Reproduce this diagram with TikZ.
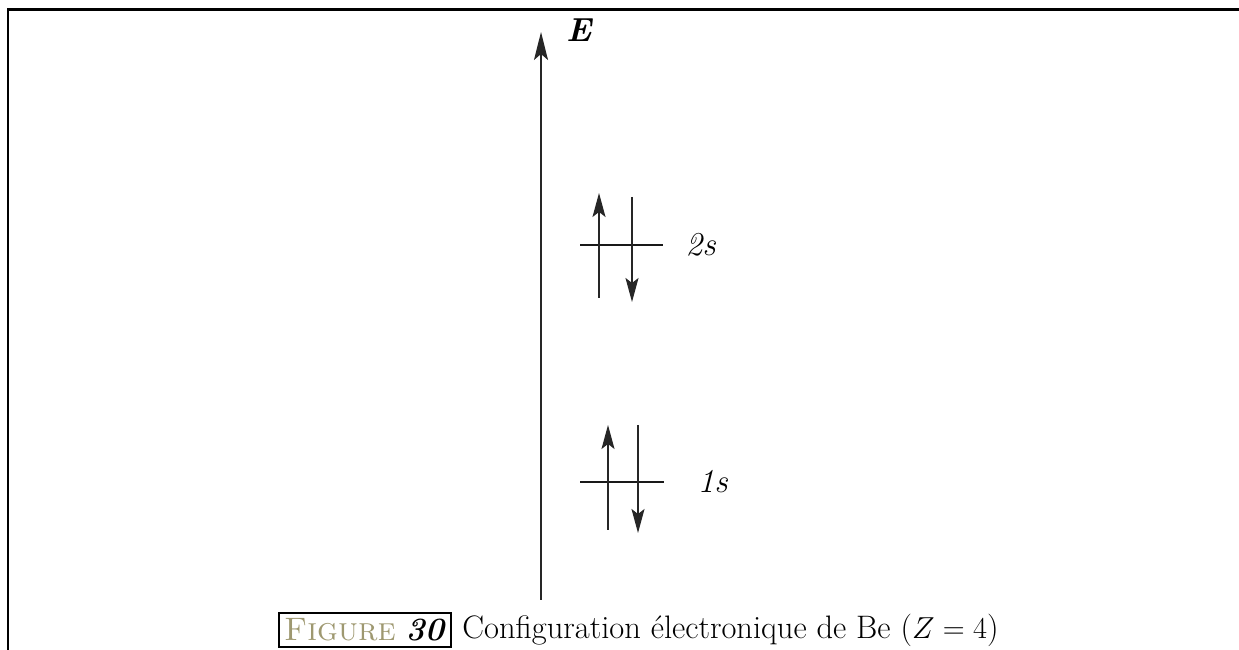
\documentclass[tikz,border=0pt]{standalone}
\usepackage{fontspec}
\usetikzlibrary{arrows.meta,positioning}
\definecolor{figgold}{HTML}{9E9870}

\begin{document}
\begin{tikzpicture}[line width=0.8pt,>=Stealth,
  axis/.style={->,line width=1.1pt,draw=black!85,>={Stealth[length=5.6mm,width=2.8mm,inset=1.2mm]}},
  spin/.style={->,line width=1pt,draw=black!85,>={Stealth[length=4.8mm,width=2.6mm,inset=1mm]}},
  level/.style={line width=1.1pt,draw=black!90},
  lab/.style={font=\fontsize{19}{21}\selectfont\itshape,inner sep=0pt}]
\useasboundingbox (0,0) rectangle (24.78,13);
% ---- frame ----
\draw[line width=1.7pt] (0.16,0) -- (0.16,12.8) -- (24.78,12.8);
% ---- energy axis ----
\coordinate (ebot) at (10.82,1.0);
\coordinate (etop) at (10.82,12.36);
\draw[axis] (ebot) -- (etop);
\node[lab,font=\fontsize{19}{21}\selectfont\bfseries\itshape] (elab) at (11.58,12.4) {E};
% ---- 2s level ----
\coordinate (s2l) at (11.6,8.1);
\coordinate (s2r) at (13.26,8.1);
\draw[level] (s2l) -- (s2r);
\node[lab,right=0.44cm of s2r] (lab2s) {2s};
\draw[spin] (11.98,7.04) -- (11.98,9.14);
\draw[spin] (12.64,9.06) -- (12.64,6.96);
% ---- 1s level ----
\coordinate (s1l) at (11.6,3.36);
\coordinate (s1r) at (13.28,3.36);
\draw[level] (s1l) -- (s1r);
\node[lab,right=0.66cm of s1r] (lab1s) {1s};
\draw[spin] (12.16,2.4) -- (12.16,4.5);
\draw[spin] (12.76,4.5) -- (12.76,2.34);
% ---- caption ----
\node[draw,line width=1.1pt,inner sep=3pt,anchor=west,
  font=\fontsize{18.5}{20}\selectfont] (fig) at (5.56,0.4)
  {\textcolor{figgold}{\textsc{Figure}} \textbf{\textit{30}}};
\node[right=0.2cm of fig,inner sep=0pt,font=\fontsize{18.5}{20}\selectfont] (cap)
  {Configuration électronique de Be ($Z = 4$)};
\end{tikzpicture}
\end{document}
